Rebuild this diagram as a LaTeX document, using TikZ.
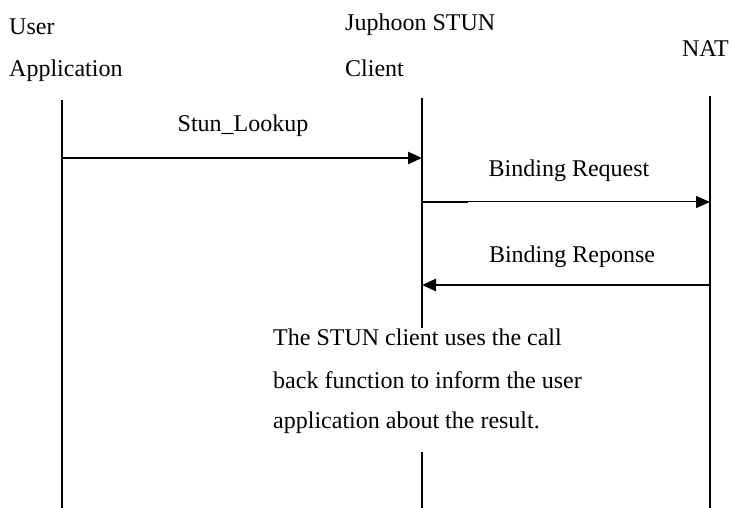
\documentclass[tikz,border=0pt]{standalone}
\usepackage{fontspec}
\setmainfont{Liberation Serif}
\usetikzlibrary{arrows.meta}
\begin{document}
\begin{tikzpicture}[x=1pt,y=-1pt,
  lbl/.style={font=\fontsize{24}{28}\selectfont, inner sep=0pt, anchor=base west},
  msg/.style={font=\fontsize{24}{28}\selectfont, inner sep=0pt, anchor=base},
  life/.style={line width=2pt},
  call/.style={line width=2.4pt, -{Triangle[length=14pt,width=12pt]}},
  thinmsg/.style={line width=1pt, -{Triangle[length=14pt,width=12pt]}}]
\useasboundingbox (0,0) rectangle (732,508);

% participants
\node[lbl] (u1) at (9,35) {User};
\node[lbl] (u2) at (9,77) {Application};
\node[lbl] (c1) at (345,31) {Juphoon STUN};
\node[lbl] (c2) at (345,77) {Client};
\node[lbl, anchor=base east] (n1) at (729,57) {NAT};

% lifelines
\coordinate (ua) at (62,100);  \coordinate (ub) at (62,508);
\coordinate (ca) at (422,98);  \coordinate (cb) at (422,328);
\coordinate (cc) at (422,452); \coordinate (cd) at (422,508);
\coordinate (na) at (710,96);  \coordinate (nb) at (710,508);
\draw[life] (ua) -- (ub);
\draw[life] (ca) -- (cb);
\draw[life] (cc) -- (cd);
\draw[life] (na) -- (nb);

% messages
\coordinate (m1a) at (62,158);  \coordinate (m1b) at (422,158);
\coordinate (m2a) at (422,202); \coordinate (m2s) at (468,202); \coordinate (m2b) at (710,202);
\coordinate (m3a) at (710,285); \coordinate (m3b) at (422,285);
\draw[call] (m1a) -- (m1b);
\draw[thinmsg] (m2a) -- (m2b);
\draw[line width=2.4pt] (m2a) -- (m2s);
\draw[call] (m3a) -- (m3b);

\node[msg] (t1) at (243,132) {Stun\_Lookup};
\node[msg] (t2) at (569,177) {Binding Request};
\node[msg] (t3) at (572,262) {Binding Reponse};

% note
\node[lbl] (d1) at (273,345) {The STUN client uses the call};
\node[lbl] (d2) at (273,388) {back function to inform the user};
\node[lbl] (d3) at (273,428) {application about the result.};
\end{tikzpicture}
\end{document}
